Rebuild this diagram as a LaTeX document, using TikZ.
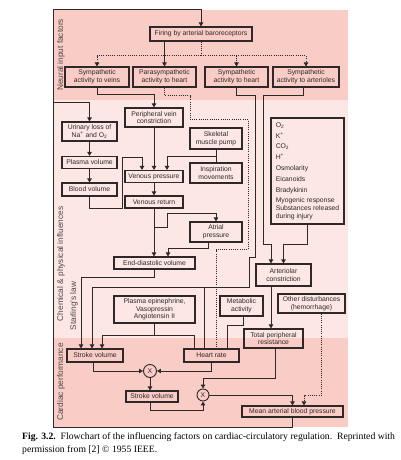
\documentclass[tikz,border=0pt]{standalone}
\usepackage{fontspec}
\setmainfont{Liberation Serif}
\setsansfont{Liberation Sans}
\usepackage{tikz}
\usetikzlibrary{arrows.meta,positioning,calc}
\definecolor{ink}{HTML}{2E2828}
\definecolor{banddark}{HTML}{F9CCC6}
\definecolor{bandlight}{HTML}{FCE7E4}
\tikzset{
  box/.style={rectangle, draw=ink, line width=1.1pt, align=center, inner sep=1pt,
              font=\sffamily\fontsize{6.8}{7.6}\selectfont, text=ink},
  mult/.style={circle, draw=ink, line width=0.9pt, inner sep=0pt, minimum size=13pt,
               font=\sffamily\fontsize{6.8}{7.6}\selectfont, text=ink},
  lbl/.style={rotate=90, font=\sffamily\fontsize{8.3}{9}\selectfont, text=ink!85},
  captxt/.style={font=\rmfamily\fontsize{9.7}{13}\selectfont, align=left, inner sep=0pt},
  flow/.style={-{Triangle[length=4pt,width=4.4pt]}, draw=ink, line width=0.9pt},
  link/.style={draw=ink, line width=0.9pt},
  dotflow/.style={flow, dash pattern=on 0.9pt off 1.3pt},
  dotlink/.style={link, dash pattern=on 0.9pt off 1.3pt}
}
\begin{document}
\begin{tikzpicture}[x=1pt, y=-1pt]
 \useasboundingbox (0,0) rectangle (400,460);
 \fill[banddark] (53,10) rectangle (348,100);
 \fill[bandlight] (53,100) rectangle (348,338);
 \fill[banddark] (53,338) rectangle (348,427);
 \node[lbl] (lneural) at (61,55) {Neural input factors};
 \node[lbl] (lchem) at (61,264) {Chemical \& physical influences};
 \node[lbl] (lstarling) at (74,306) {Starling's law};
 \node[lbl] (lcardiac) at (61,382) {Cardiac performance};
 % neural input factors
 \node[box, minimum width=102pt, minimum height=14pt] (fire) at (201,34) {Firing by arterial baroreceptors};
 \node[box, minimum width=64pt, minimum height=20pt] (symv) at (97,77) {Sympathetic\\activity to veins};
 \node[box, minimum width=63pt, minimum height=20pt] (para) at (164.5,77) {Parasympathetic\\activity to heart};
 \node[box, minimum width=63pt, minimum height=20pt] (symh) at (236.5,77) {Sympathetic\\activity to heart};
 \node[box, minimum width=66pt, minimum height=20pt] (syma) at (306,77) {Sympathetic\\activity to arterioles};
 % chemical and physical influences
 \node[box, minimum width=55pt, minimum height=19pt] (urine) at (89.5,131.5) {Urinary loss of\\Na\textsuperscript{+} and O\textsubscript{2}};
 \node[box, minimum width=55pt, minimum height=12pt] (plasma) at (89.5,162.5) {Plasma volume};
 \node[box, minimum width=55pt, minimum height=13pt] (blood) at (89.5,189.5) {Blood volume};
 \node[box, minimum width=58pt, minimum height=19pt] (pvc) at (154,117.5) {Peripheral vein\\constriction};
 \node[box, minimum width=58pt, minimum height=12pt] (vp) at (154,176.5) {Venous pressure};
 \node[box, minimum width=52pt, minimum height=21pt] (skel) at (216,138.5) {Skeletal\\muscle pump};
 \node[box, minimum width=52pt, minimum height=20pt] (insp) at (216,173) {Inspiration\\movements};
 \node[box, minimum width=58pt, minimum height=12pt] (vr) at (154,202) {Venous return};
 \node[box, minimum width=52pt, minimum height=20pt] (atrial) at (216,232) {Atrial\\pressure};
 \node[box, minimum width=81pt, minimum height=12pt] (edv) at (154.5,263) {End-diastolic volume};
 \node[box, minimum width=73pt, minimum height=106pt, align=left, inner sep=4pt] (chem) at (307.5,171)
   {O\textsubscript{2}\\[3.2pt] K\textsuperscript{+}\\[3.2pt] CO\textsubscript{2}\\[3.2pt] H\textsuperscript{+}\\[3.2pt]
    Osmolarity\\[3.2pt] Eicanoids\\[3.2pt] Bradykinin\\[3.2pt] Myogenic response\\ Substances released\\ during injury};
 \node[box, minimum width=55pt, minimum height=22pt] (art) at (283.5,275) {Arteriolar\\constriction};
 \node[box, minimum width=81pt, minimum height=27pt] (epi) at (154.5,309.5) {Plasma epinephrine,\\Vasopressin\\Angiotensin II};
 \node[box, minimum width=43pt, minimum height=20pt] (metab) at (241.5,306) {Metabolic\\activity};
 \node[box, minimum width=67pt, minimum height=19pt] (other) at (311.5,303.5) {Other disturbances\\(hemorrhage)};
 \node[box, minimum width=59pt, minimum height=19pt] (tpr) at (273.5,338.5) {Total peripheral\\resistance};
 % cardiac performance
 \node[box, minimum width=56pt, minimum height=13pt] (sv1) at (95,355.5) {Stroke volume};
 \node[box, minimum width=55pt, minimum height=13pt] (hr) at (211.5,355.5) {Heart rate};
 \node[mult] (mult1) at (150,371) {X};
 \node[box, minimum width=52pt, minimum height=11pt] (sv2) at (152,396.5) {Stroke volume};
 \node[mult, minimum size=12pt] (mult2) at (203,395) {X};
 \node[box, minimum width=101pt, minimum height=11pt] (map) at (292.5,411.5) {Mean arterial blood pressure};
 \coordinate (nw) at (53,9);
 \coordinate (sw) at (53,427);
 \coordinate (ub) at (53,102);
 \node[captxt, anchor=north west] (caption) at (22,432)
   {\textbf{Fig. 3.2.}\ \ Flowchart of the influencing factors on cardiac-circulatory regulation.\ \ Reprinted with\\
    permission from [2] © 1955 IEEE.};
 % connectors
 \draw[flow] (map.south) |- (sw) -- (nw) -| (fire.north);
 \draw[flow] (ub) -| (urine.north);
 \draw[flow] (fire.south -| para.north) -- (para.north);
 \draw[dotlink] (fire.south) -- ++(0,14) coordinate (dj);
 \draw[dotflow] (dj) -| (symv.north);
 \draw[dotflow] (dj) -| (syma.north);
 \draw[dotflow] (dj -| symh.north) -- (symh.north);
 \draw[flow] (symv.south) -- ++(0,7) -| (pvc.north);
 \draw[dotlink] (para.south) -- ++(0,8) -| ++(25.5,24) -| ++(58,130) -| ([xshift=4.5pt]hr.north);
 \draw[flow] (symh.south) -- ++(0,8) -| ++(18.5,162) -| ++(-6,30) coordinate (hj) -| ([xshift=-3pt]sv1.north);
 \draw[link] (hj) -| ([xshift=-7.5pt]hr.north);
 \draw[flow] ([xshift=-3pt]syma.south) -- ++(0,8) -| ++(-40,149) -| ([xshift=-12.5pt]art.north);
 \draw[flow] (chem.south) -- ++(0,20) -| (art.north);
 \draw[flow] (urine) -- (plasma);
 \draw[flow] (plasma) -- (blood);
 \draw[flow] (blood.south) -- ++(0,12) -| ++(32.5,-51) -| ([xshift=-12pt]vp.north);
 \draw[flow] (pvc) -- (vp);
 \draw[link] (skel) -- (insp);
 \draw[flow] ($(skel.south)!.5!(insp.north)$) -| ([xshift=13pt]vp.north);
 \draw[flow] (vp) -- (vr);
 \draw[flow] (vr.south) -- (vr.south |- edv.north);
 \draw[flow] (vr.south) ++(0,19) -| ++(13,-14) -| (atrial.north);
 \draw[flow] ([xshift=-8pt]atrial.south) -- ++(0,6) -| ([xshift=13.5pt]edv.north);
 \draw[flow] (edv.south) -- ++(0,8) -| ([xshift=-14pt]sv1.north);
 \draw[flow] (epi.south) -- ++(0,12) coordinate (pj) -| ([xshift=7pt]sv1.north);
 \draw[link] (pj) -| ([xshift=-17.5pt]hr.north);
 \draw[link] ([xshift=1.5pt]metab.south) -- ++(0,9) -| ([xshift=15.5pt]hr.north);
 \draw[flow] ([xshift=-12.5pt]art.south) -- ([xshift=-12.5pt]art.south |- tpr.north);
 \draw[flow] ([xshift=1.5pt]tpr.south) -- ++(0,30) -| (mult2.north);
 \draw[flow] ([xshift=-2pt]sv1.south) |- (mult1.west);
 \draw[flow] (hr.south) |- (mult1.east);
 \draw[flow] (mult1) -- (sv2.north -| mult1);
 \draw[flow] ([xshift=-2pt]sv2.south) -- ++(0,8) -| (mult2.south);
 \draw[flow] (mult2.east) -| (map.north);
 \draw[dotflow] ([xshift=9.5pt]other.south) -- ++(0,82) -| ([xshift=11.5pt]map.north);
\end{tikzpicture}
\end{document}
